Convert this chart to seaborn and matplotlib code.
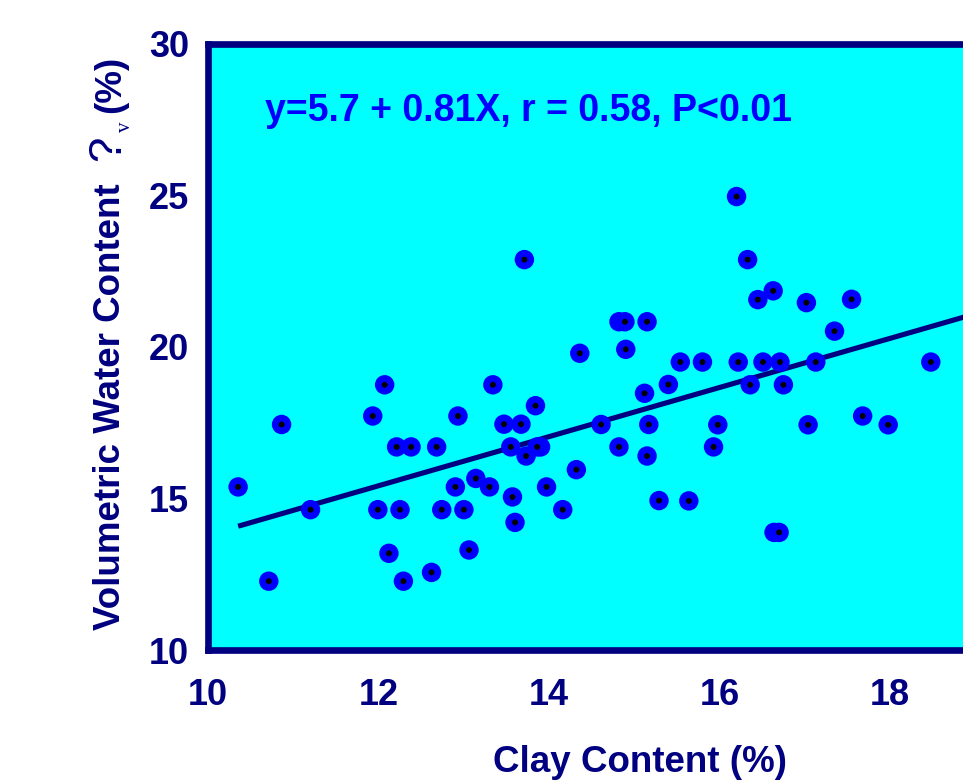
import numpy as np
import pandas as pd
import matplotlib
matplotlib.use("Agg")
import matplotlib.pyplot as plt
from matplotlib.ticker import MultipleLocator
import seaborn as sns

# ---- data ----
clay = [10.35, 10.71, 10.86, 11.20, 11.93, 11.99, 12.07, 12.12, 12.21, 12.25,
        12.29, 12.38, 12.62, 12.68, 12.74, 12.90, 12.93, 13.00, 13.06, 13.14,
        13.30, 13.34, 13.47, 13.55, 13.57, 13.60, 13.67, 13.71, 13.73, 13.84,
        13.90, 13.86, 13.97, 14.16, 14.32, 14.36, 14.61, 14.82, 14.82, 14.89,
        14.90, 15.12, 15.15, 15.15, 15.17, 15.29, 15.40, 15.54, 15.64, 15.80,
        15.93, 15.98, 16.20, 16.22, 16.33, 16.36, 16.45, 16.51, 16.63, 16.64,
        16.70, 16.71, 16.75, 17.02, 17.04, 17.13, 17.35, 17.55, 17.68, 17.98,
        18.48]
vwc = [15.38, 12.27, 17.44, 14.63, 17.72, 14.63, 18.75, 13.19, 16.70, 14.63,
       12.27, 16.70, 12.56, 16.70, 14.63, 15.38, 17.72, 14.63, 13.30, 15.66,
       15.38, 18.75, 17.45, 16.70, 15.05, 14.21, 17.45, 22.88, 16.40, 18.06,
       16.70, 16.70, 15.38, 14.63, 15.95, 19.79, 17.44, 20.83, 16.70, 20.83,
       19.92, 18.47, 20.83, 16.40, 17.44, 14.93, 18.76, 19.50, 14.92, 19.50,
       16.70, 17.43, 24.96, 19.50, 22.88, 18.75, 21.56, 19.50, 21.85, 13.88,
       13.88, 19.50, 18.75, 21.46, 17.43, 19.50, 20.52, 21.57, 17.72, 17.43,
       19.50]
intercept = 5.7
slope = 0.81
x_ticks = [10, 12, 14, 16, 18]
y_ticks = [10, 15, 20, 25, 30]
equation = "y=5.7 + 0.81X, r = 0.58, P<0.01"
x_label = "Clay Content (%)"
y_label_main = "Volumetric Water Content"
y_label_sym = "?"
y_label_sub = "v"
y_label_unit = "(%)"

# ---- style ----
sns.set_style("white")
plt.rcParams["font.family"] = ["Liberation Sans", "DejaVu Sans"]

NAVY = "#000080"
W, H = 963, 783
fig = plt.figure(figsize=(W / 100, H / 100), dpi=100)
ax = fig.add_axes([208.3 / W, (H - 650) / H, 10 * 85.2 / W, 606.2 / H])
ax.set_facecolor("#00FFFF")

# interleave ring + dot per point so later points cover earlier dots
n = len(clay)
df = pd.DataFrame({
    "clay": np.repeat(clay, 2),
    "vwc": np.repeat(vwc, 2),
    "layer": ["ring", "dot"] * n,
})
sns.scatterplot(data=df, x="clay", y="vwc", hue="layer", size="layer",
                palette={"ring": "#0000FF", "dot": "#000000"},
                sizes={"ring": 196, "dot": 18}, linewidth=0,
                legend=False, ax=ax, zorder=3)

# regression line
line_x = np.array([min(clay), 20.0])
line_y = intercept + slope * line_x
ax.plot(line_x, line_y, color=NAVY, lw=3.7, solid_capstyle="butt", zorder=2)

ax.set_xlim(10, 20)
ax.set_ylim(10, 30)
ax.set_xticks(x_ticks)
ax.set_yticks(y_ticks)
ax.xaxis.set_minor_locator(MultipleLocator(0.4))
ax.yaxis.set_minor_locator(MultipleLocator(1))
ax.set_xlabel("")
ax.set_ylabel("")

for s in ax.spines.values():
    s.set_color(NAVY)
    s.set_linewidth(4.8)
    s.set_visible(True)

ax.tick_params(axis="both", which="both", direction="in", color="black",
               top=False, right=False, labelcolor=NAVY)
ax.tick_params(axis="both", which="major", length=5.6, width=4.3, labelsize=26)
ax.tick_params(axis="both", which="minor", length=3.8, width=4.3)
ax.tick_params(axis="x", which="major", pad=20.5)
ax.tick_params(axis="y", which="major", pad=14)
for lab in ax.get_xticklabels() + ax.get_yticklabels():
    lab.set_fontweight("bold")
ax.xaxis.set_zorder(3.5)
ax.yaxis.set_zorder(3.5)

# equation
ax.text((265 - 208.3) / 852, (650 - 120.7) / 606.2, equation,
        transform=ax.transAxes, ha="left", va="baseline",
        fontsize=27, fontweight="bold", color="#0000FF", zorder=5)

# axis labels
fig.text(640 / W, (H - 771.7) / H, x_label, ha="center", va="baseline",
         fontsize=26.5, fontweight="bold", color=NAVY)

def ytext(px, py, s, **kw):
    fig.text(px / W, (H - py) / H, s, rotation=90, rotation_mode="anchor",
             ha="left", va="baseline", color=NAVY, **kw)

ytext(120, 630, y_label_main, fontsize=26.5, fontweight="bold")
ytext(120, 161, y_label_sym, fontsize=33)
ytext(130, 132, y_label_sub, fontsize=15, family=["Liberation Serif", "DejaVu Serif"])
ytext(120, 113, y_label_unit, fontsize=26.5, fontweight="bold")

fig.savefig("out.png", dpi=100)
